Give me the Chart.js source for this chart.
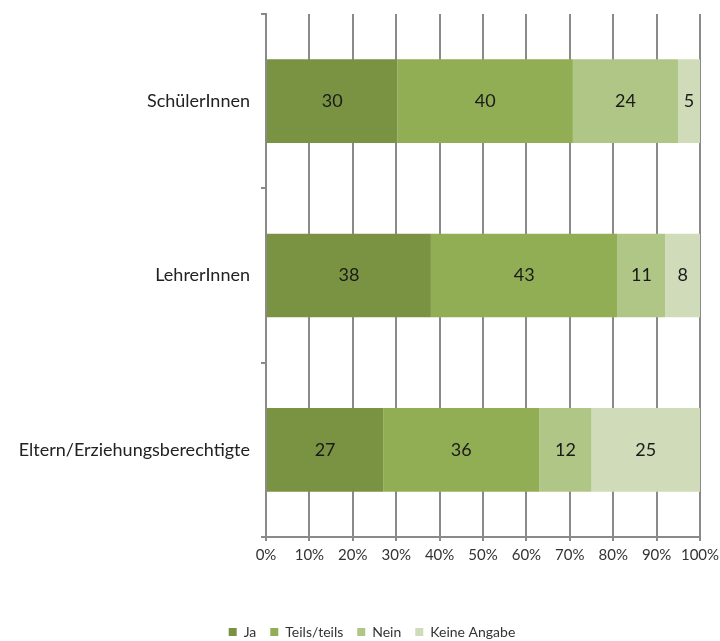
<!DOCTYPE html>
<html><head><meta charset="utf-8">
<script src="https://cdn.jsdelivr.net/npm/chart.js@4/dist/chart.umd.min.js"></script>
<style>html,body{margin:0;padding:0;background:#fff}#wrap{width:720px;height:641px}</style>
</head><body><div id="wrap"><canvas id="c" width="720" height="641"></canvas></div>
<script>
const categories = ['SchülerInnen', 'LehrerInnen', 'Eltern/Erziehungsberechtigte'];
const seriesNames = ['Ja', 'Teils/teils', 'Nein', 'Keine Angabe'];
const ja = [30, 38, 27];
const teils = [40, 43, 36];
const nein = [24, 11, 12];
const keine = [5, 8, 25];
const tickValues = [0, 10, 20, 30, 40, 50, 60, 70, 80, 90, 100];

const raw = [ja, teils, nein, keine];
const colors = ['#7a9343', '#92ae54', '#b0c686', '#d0dcb9'];
const rowSums = categories.map((_, i) => raw.reduce((s, arr) => s + arr[i], 0));
const FONT = 'Lato, "Open Sans", sans-serif';

const valueLabels = {
  id: 'valueLabels',
  afterDatasetsDraw(chart) {
    const ctx = chart.ctx;
    ctx.save();
    ctx.font = '18px ' + FONT;
    ctx.fillStyle = '#1a1a1a';
    ctx.textAlign = 'center';
    ctx.textBaseline = 'middle';
    chart.data.datasets.forEach((ds, di) => {
      chart.getDatasetMeta(di).data.forEach((bar, i) => {
        const x = (bar.x + bar.base) / 2;
        ctx.fillText(String(raw[di][i]), x, bar.y);
      });
    });
    ctx.restore();
  }
};

const legendShift = {
  id: 'legendShift',
  afterLayout(chart) {
    const lg = chart.legend;
    if (!lg) return;
    const dx = 20, dy = 8;
    lg.left += dx; lg.right += dx;
    lg.top += dy; lg.bottom += dy;
  }
};

new Chart(document.getElementById('c'), {
  type: 'bar',
  data: {
    labels: categories,
    datasets: raw.map((arr, di) => ({
      label: seriesNames[di],
      data: arr.map((v, i) => v / rowSums[i] * 100),
      backgroundColor: colors[di],
      borderWidth: 0,
      barPercentage: 0.48,
      categoryPercentage: 1
    }))
  },
  options: {
    indexAxis: 'y',
    responsive: false,
    animation: false,
    layout: { padding: { top: 14, right: 20, left: 4, bottom: 0 } },
    plugins: {
      tooltip: { enabled: false },
      legend: {
        position: 'bottom',
        labels: {
          font: { family: FONT, size: 14 },
          color: '#333',
          boxWidth: 8, boxHeight: 8,
          padding: 14
        }
      }
    },
    scales: {
      x: {
        stacked: true,
        min: 0, max: 100,
        afterBuildTicks(scale) { scale.ticks = tickValues.map(v => ({ value: v })); },
        ticks: { callback: v => v + '%', font: { family: FONT, size: 15 }, color: '#333', padding: 5, maxRotation: 0 },
        grid: { color: '#8a8a8a', lineWidth: 2, tickLength: 4 },
        border: { color: '#8a8a8a', width: 2 },
        afterFit(scale) { scale.height = 66; scale.paddingLeft = 0; scale.paddingRight = 0; }
      },
      y: {
        stacked: true,
        ticks: { font: { family: FONT, size: 18 }, color: '#222', padding: 11 },
        grid: { offset: true, drawOnChartArea: false, color: '#8a8a8a', lineWidth: 2, tickLength: 5 },
        border: { color: '#8a8a8a', width: 2 },
        afterFit(scale) { scale.width = 262; scale.paddingTop = 0; scale.paddingBottom = 0; }
      }
    }
  },
  plugins: [valueLabels, legendShift]
});
</script>
</body></html>
